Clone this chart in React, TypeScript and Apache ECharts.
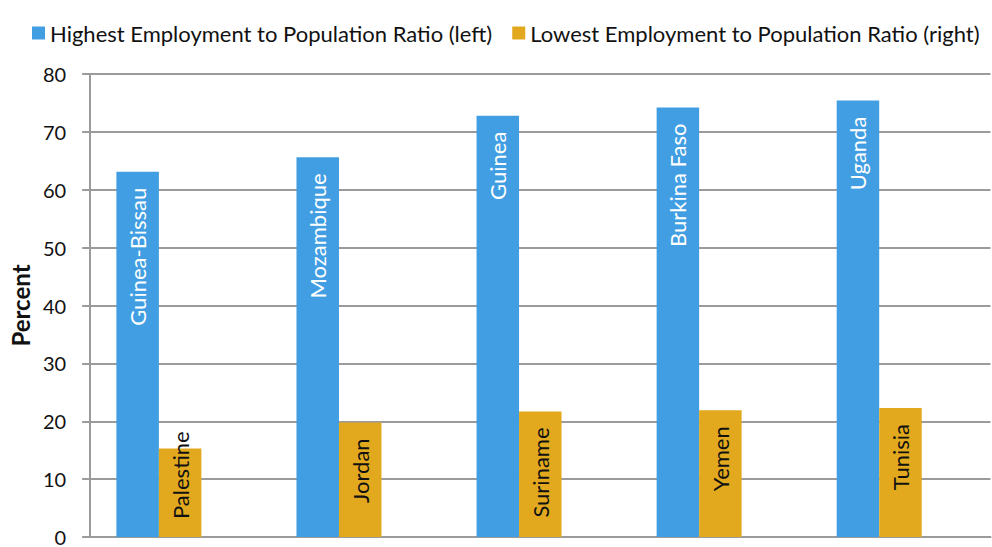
import React, { useEffect, useRef } from "react";
import * as echarts from "echarts";

const highCountries = ["Guinea-Bissau", "Mozambique", "Guinea", "Burkina Faso", "Uganda"];
const highValues = [63.1, 65.6, 72.8, 74.2, 75.4];
const lowCountries = ["Palestine", "Jordan", "Suriname", "Yemen", "Tunisia"];
const lowValues = [15.3, 19.8, 21.7, 21.9, 22.3];
const categories = ["1", "2", "3", "4", "5"];
const seriesNames = [
  "Highest Employment to Population Ratio (left)",
  "Lowest Employment to Population Ratio (right)",
];

const BLUE = "#419EE2";
const ORANGE = "#E2A91E";
const GRID = "#9B9B9B";
const FONT = "Lato, 'Open Sans', sans-serif";

export default function App() {
  const ref = useRef<HTMLDivElement>(null);
  useEffect(() => {
    if (!ref.current) return;
    const chart = echarts.init(ref.current, null, { renderer: "svg" });
    const topLabel = (color: string) => ({
      show: true,
      position: "insideTop",
      distance: 16,
      rotate: 90,
      align: "right",
      verticalAlign: "middle",
      color,
      fontSize: 22,
      fontFamily: FONT,
    });
    chart.setOption({
      animation: false,
      textStyle: { fontFamily: FONT },
      legend: {
        data: seriesNames,
        left: 27,
        top: 17,
        itemWidth: 13,
        itemHeight: 13,
        itemGap: 20,
        icon: "rect",
        textStyle: { fontSize: 22, color: "#111", fontFamily: FONT },
      },
      grid: { left: 88, right: 1.5, top: 74, bottom: 5, containLabel: false },
      xAxis: {
        type: "category",
        data: categories,
        axisLine: { show: true, lineStyle: { color: GRID, width: 2 } },
        axisTick: { show: false },
        axisLabel: { show: false },
      },
      yAxis: {
        type: "value",
        min: 0,
        max: 80,
        interval: 10,
        name: "Percent",
        nameLocation: "middle",
        nameGap: 58,
        nameTextStyle: { fontSize: 24, fontWeight: "bold", color: "#111", fontFamily: FONT },
        axisLine: { show: true, lineStyle: { color: GRID, width: 2 } },
        axisTick: { show: true, length: 8, lineStyle: { color: GRID, width: 2 } },
        axisLabel: { fontSize: 20, color: "#111", margin: 24, fontFamily: FONT },
        splitLine: { show: true, lineStyle: { color: GRID, width: 2 } },
      },
      series: [
        {
          name: seriesNames[0],
          type: "bar",
          barWidth: 42.5,
          barGap: "0%",
          itemStyle: { color: BLUE },
          label: { ...topLabel("#fff"), formatter: (p: any) => highCountries[p.dataIndex] },
          data: highValues,
        },
        {
          name: seriesNames[1],
          type: "bar",
          barWidth: 42.5,
          barGap: "0%",
          itemStyle: { color: ORANGE },
          label: { ...topLabel("#111"), formatter: (p: any) => lowCountries[p.dataIndex] },
          data: lowValues.map((v, i) =>
            i === 0
              ? {
                  value: v,
                  label: { position: "insideBottom", align: "left", distance: 18 },
                }
              : v
          ),
        },
        {
          name: "spacer",
          type: "bar",
          barWidth: 42.5,
          barGap: "0%",
          data: categories.map(() => null),
        },
      ],
    });
    return () => chart.dispose();
  }, []);
  return (
    <div
      ref={ref}
      style={{ position: "fixed", left: 0, top: 0, width: 992, height: 547, background: "#fff" }}
    />
  );
}
